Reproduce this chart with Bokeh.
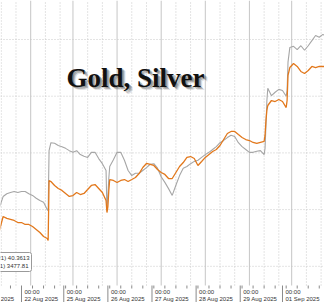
from bokeh.plotting import figure
from bokeh.models import Range1d
from bokeh.embed import file_html
from bokeh.resources import INLINE
from bokeh.core.properties import value

# ---- data (session hours since 21 Aug 00:00 London, weekend removed) ----
hours = [12, 14, 16, 18, 20, 22, 24, 26, 28, 30, 32, 34, 36, 38, 38.5, 39,
         40, 42, 44, 46, 48, 50, 52, 54, 56, 58, 60, 62, 64, 66, 68, 70,
         70.5, 71, 71.5,
         72, 74, 76, 78, 80, 82, 84, 86, 88, 90, 92, 94, 96, 98, 100, 102, 104,
         106, 108, 110, 112, 114, 116, 118, 120, 122, 124, 126, 128, 130, 132,
         134, 136, 138, 140, 142, 144, 146, 148, 150, 152, 154, 156,
         156.5, 157, 157.5,
         158, 160, 162, 164, 166, 168,
         168.5, 169,
         170, 172, 174, 176, 178, 180, 182, 184, 186, 188, 190]

gold = [3331.6, 3343.9, 3342.2, 3341.3, 3340.4, 3338.6, 3338.6, 3336.9, 3336.9,
        3335.1, 3332.5, 3329.8, 3326.3, 3324.5, 3322.8, 3375.7,
        3374.8, 3371.3, 3368.6, 3366.9, 3364.2, 3361.6, 3362.4, 3365.1, 3363.3,
        3364.2, 3367.7, 3371.3, 3372.1, 3368.6, 3365.1, 3358.0,
        3347.4, 3352.7, 3366.9,
        3376.5, 3375.7, 3373.9, 3375.7, 3376.5, 3374.8, 3376.5, 3378.3, 3381.8,
        3387.1, 3390.7, 3389.8, 3388.9, 3385.4, 3382.7, 3381.0, 3377.4, 3377.4,
        3382.7, 3388.0, 3391.5, 3396.0, 3396.8, 3395.1, 3388.9, 3392.4, 3396.0,
        3398.6, 3401.2, 3403.0, 3406.5, 3411.8, 3417.1, 3418.9, 3418.9, 3416.2,
        3413.6, 3411.8, 3410.9, 3409.2, 3408.3, 3409.2, 3410.1,
        3415.4, 3428.6, 3437.4,
        3441.8, 3446.2, 3445.3, 3447.1, 3445.3, 3440.0,
        3446.2, 3468.3,
        3475.3, 3478.8, 3476.2, 3471.8, 3470.0, 3472.7, 3476.2, 3475.3, 3476.2,
        3476.2, 3476.2]

silver = [38.04, 38.23, 38.28, 38.30, 38.32, 38.30, 38.32, 38.32, 38.28, 38.25,
          38.20, 38.16, 38.13, 38.00, 37.98, 39.04,
          39.18, 39.17, 39.13, 39.11, 39.08, 39.04, 39.01, 39.04, 38.97, 38.94,
          38.92, 39.01, 39.01, 38.90, 38.81, 38.69,
          37.98, 38.25, 38.55,
          38.76, 38.88, 39.01, 39.01, 38.87, 38.69, 38.60, 38.64, 38.64, 38.69,
          38.74, 38.80, 38.81, 38.73, 38.58, 38.48, 38.37, 38.25, 38.43, 38.60,
          38.73, 38.76, 38.81, 38.85, 38.87, 38.92, 38.97, 39.01, 39.06, 39.11,
          39.18, 39.22, 39.27, 39.31, 39.29, 39.18, 39.11, 39.06, 39.01, 39.01,
          39.03, 39.04, 38.97,
          39.08, 39.48, 39.92,
          40.14, 40.01, 40.07, 40.12, 40.10, 40.00,
          40.10, 40.60,
          40.86, 40.88, 40.82, 40.89, 40.81, 40.89, 40.98, 41.07, 41.04, 41.09,
          41.05]

day_ticks = [0, 24, 47, 71, 95, 119, 143, 166]
day_labels = ["21 Aug 2025", "22 Aug 2025", "25 Aug 2025", "26 Aug 2025",
              "27 Aug 2025", "28 Aug 2025", "29 Aug 2025", "01 Sep 2025"]
time_label = "00:00"
solid_grid = [29, 52, 76, 100, 124, 148, 171]
dotted_grid = [13, 21, 37, 45, 60, 68, 84, 92, 108, 116, 132, 140, 156, 164, 179, 187]
gold_ticks = [3300, 3350, 3400, 3450, 3500]
silver_ticks = [37, 38, 39, 40, 41]
legend_lines = ["(R1) 40.3613", "(L1) 3477.81"]
title = "Gold, Silver"

# ---- layout ----
W, H = 324, 302
AXIS_Y = 285          # pixel row of the time axis
PX_PER_H = 1.838
X0_PX = 21            # pixel of 22 Aug 00:00
GRID_TOP_PX, GRID_STEP_PX = 39, 56.7

x_start = 24 - X0_PX / PX_PER_H
x_end = x_start + W / PX_PER_H
g_per_px = (gold_ticks[1] - gold_ticks[0]) / GRID_STEP_PX
g_top = gold_ticks[-1] + GRID_TOP_PX * g_per_px
s_per_px = (silver_ticks[1] - silver_ticks[0]) / GRID_STEP_PX
s_top = silver_ticks[-1] + GRID_TOP_PX * s_per_px

p = figure(width=W, height=H, min_border=0, toolbar_location=None,
           output_backend="svg", x_axis_location=None, y_axis_location=None,
           x_range=Range1d(x_start, x_end),
           y_range=Range1d(g_top - H * g_per_px, g_top))
p.extra_x_ranges = {"px": Range1d(0, W)}
p.extra_y_ranges = {"px": Range1d(H, 0),
                    "silver": Range1d(s_top - H * s_per_px, s_top)}
p.grid.visible = False
p.outline_line_color = None
p.background_fill_color = "white"
p.border_fill_color = "white"

# horizontal dotted grid
p.segment(x0=[0] * len(gold_ticks), x1=[W] * len(gold_ticks), y0=gold_ticks, y1=gold_ticks,
          x_range_name="px", line_color="#c8c8c8", line_width=1, line_dash="1 2")
# vertical grid
p.segment(x0=dotted_grid, x1=dotted_grid, y0=[AXIS_Y] * len(dotted_grid), y1=[0] * len(dotted_grid),
          y_range_name="px", line_color="#c8c8c8", line_width=1, line_dash="1 2")
p.segment(x0=solid_grid, x1=solid_grid, y0=[AXIS_Y] * len(solid_grid), y1=[0] * len(solid_grid),
          y_range_name="px", line_color="#c6c6c6", line_width=1)

# series
p.line(hours, silver, y_range_name="silver", line_color="#a6a6a6", line_width=1.1)
p.line(hours, gold, line_color="#e2781c", line_width=1.3)

# time axis
p.segment(x0=day_ticks, x1=day_ticks, y0=[AXIS_Y] * len(day_ticks), y1=[H] * len(day_ticks),
          y_range_name="px", line_color="#8a8a8a", line_width=1)
minor = [h for h in range(0, 192, 6) if h not in day_ticks]
p.segment(x0=minor, x1=minor, y0=[AXIS_Y] * len(minor), y1=[AXIS_Y + 3] * len(minor),
          y_range_name="px", line_color="#8a8a8a", line_width=1)
p.text(x=day_ticks, y=[291] * len(day_ticks), text=[time_label] * len(day_ticks),
       y_range_name="px", x_offset=3, text_font=value("Liberation Sans"),
       text_font_size="6px", text_color="#333333", text_align="left", text_baseline="middle")
p.text(x=day_ticks, y=[298.5] * len(day_ticks), text=day_labels,
       y_range_name="px", x_offset=3, text_font=value("Liberation Sans"),
       text_font_size="6px", text_color="#333333", text_align="left", text_baseline="middle")

# legend box (cropped at left)
p.quad(left=[-10], right=[31], top=[252], bottom=[271], x_range_name="px", y_range_name="px",
       fill_color="white", line_color="#9a9a9a", line_width=1, border_radius=2)
p.text(x=[29, 28], y=[257.5, 265.5], text=legend_lines, x_range_name="px", y_range_name="px",
       text_font=value("Liberation Sans"), text_font_size="6px", text_color="#333333",
       text_align="right", text_baseline="middle")

# title with soft shadow
for dx, dy, a in [(3.5, 3.5, 0.18), (2.5, 2.5, 0.35), (1.5, 1.5, 0.35)]:
    p.text(x=[135 + dx], y=[77 + dy], text=[title], x_range_name="px", y_range_name="px",
           text_font=value("Liberation Serif"), text_font_style="bold", text_font_size="27px",
           text_color="#555555", text_alpha=a, text_align="center", text_baseline="alphabetic")
p.text(x=[135], y=[77], text=[title], x_range_name="px", y_range_name="px",
       text_font=value("Liberation Serif"), text_font_style="bold", text_font_size="27px",
       text_color="#111111", text_align="center", text_baseline="alphabetic")

open("out.html", "w").write(file_html(p, INLINE))
